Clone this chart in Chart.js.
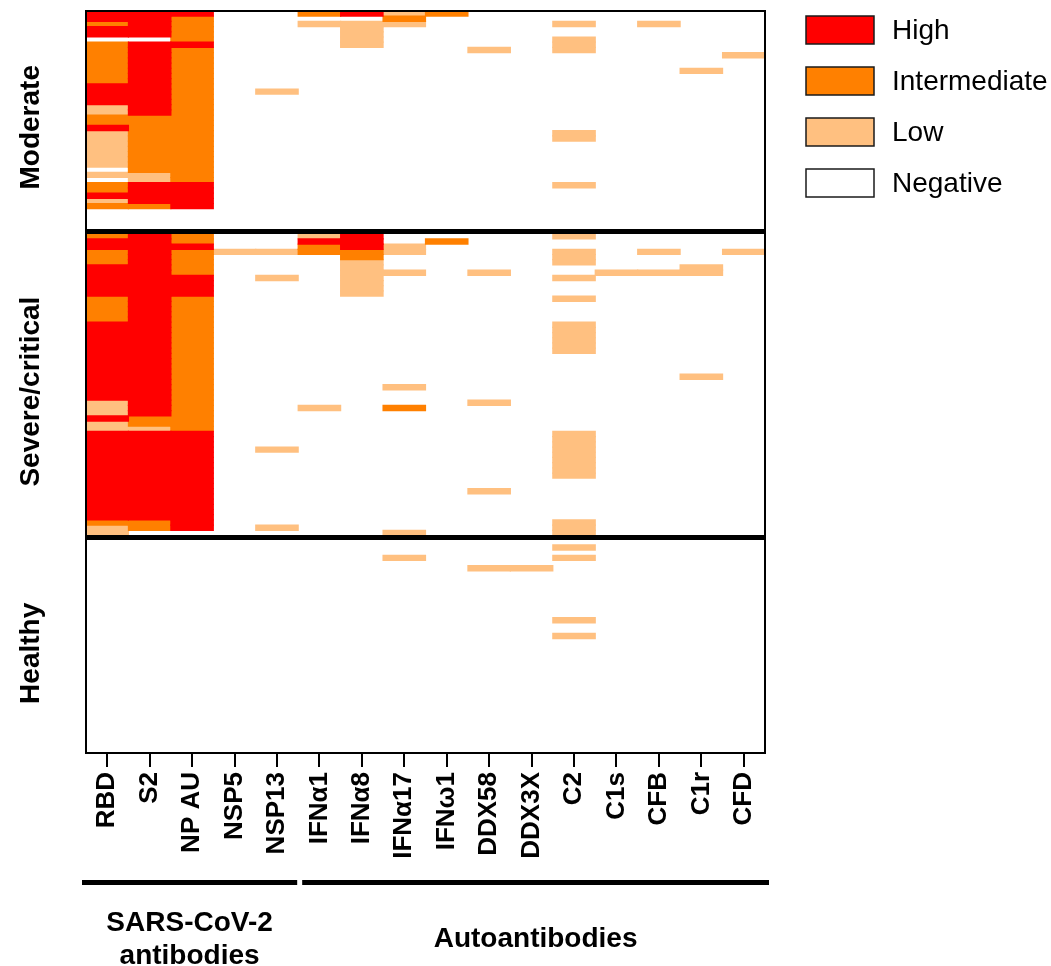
<!DOCTYPE html>
<html>
<head>
<meta charset="utf-8">
<script src="https://cdn.jsdelivr.net/npm/chart.js@4/dist/chart.umd.min.js"></script>
<style>
html,body{margin:0;padding:0;background:#fff;}
#wrap{width:1051px;height:966px;position:relative;}
</style>
</head>
<body>
<div id="wrap"><canvas id="c" width="1051" height="966"></canvas></div>
<script>
const columns = ['RBD','S2','NP AU','NSP5','NSP13','IFNα1','IFNα8','IFNα17','IFNω1','DDX58','DDX3X','C2','C1s','CFB','C1r','CFD'];
const panelNames = ['Moderate','Severe/critical','Healthy'];
const levelNames = ['Negative','Low','Intermediate','High'];
const levelColors = ['#FFFFFF','#FFC080','#FF8000','#FF0000'];
const groupNames = [['SARS-CoV-2','antibodies'],['Autoantibodies']];
const groupSpans = [[0,4],[5,15]];

// each string = one patient row, one digit per column (0 Negative, 1 Low, 2 Intermediate, 3 High)
const moderateRows = [
"3330023120000000",
"3320000200000000",
"2320011100010100",
"3320001000000000",
"3320001000000000",
"0020001000010000",
"2330001000010000",
"2320000001010000",
"2320000000000001",
"2320000000000000",
"2320000000000000",
"2320000000000010",
"2320000000000000",
"2320000000000000",
"3320000000000000",
"3320100000000000",
"3320000000000000",
"3320000000000000",
"1320000000000000",
"1320000000000000",
"2220000000000000",
"2220000000000000",
"3220000000000000",
"1220000000010000",
"1220000000010000",
"1220000000000000",
"1220000000000000",
"1220000000000000",
"1220000000000000",
"1220000000000000",
"0220000000000000",
"1120000000000000",
"0120000000000000",
"2330000000010000",
"2330000000000000",
"3330000000000000",
"1330000000000000",
"2230000000000000",
"0000000000000000",
"0000000000000000",
"0000000000000000",
"0000000000000000"
];

const severeRows = [
"2320013000010000",
"3320033020000000",
"3330023100000000",
"2321122100010101",
"2320002000010000",
"2320001000010000",
"3320001000000010",
"3320001101001110",
"3330101000010000",
"3330001000000000",
"3330001000000000",
"3330001000000000",
"2320000000010000",
"2320000000000000",
"2320000000000000",
"2320000000000000",
"2320000000000000",
"3320000000010000",
"3320000000010000",
"3320000000010000",
"3320000000010000",
"3320000000010000",
"3320000000010000",
"3320000000000000",
"3320000000000000",
"3320000000000000",
"3320000000000000",
"3320000000000010",
"3320000000000000",
"3320000100000000",
"3320000000000000",
"3320000000000000",
"1320000001000000",
"1320010200000000",
"1320000000000000",
"3220000000000000",
"1220000000000000",
"1120000000000000",
"3330000000010000",
"3330000000010000",
"3330000000010000",
"3330100000010000",
"3330000000010000",
"3330000000010000",
"3330000000010000",
"3330000000010000",
"3330000000010000",
"3330000000000000",
"3330000000000000",
"3330000001000000",
"3330000000000000",
"3330000000000000",
"3330000000000000",
"3330000000000000",
"3330000000000000",
"2230000000010000",
"1230100000010000",
"1000000100010000"
];

const healthyRows = [
"0000000000000000",
"0000000000010000",
"0000000000000000",
"0000000100010000",
"0000000000000000",
"0000000001100000",
"0000000000000000",
"0000000000000000",
"0000000000000000",
"0000000000000000",
"0000000000000000",
"0000000000000000",
"0000000000000000",
"0000000000000000",
"0000000000000000",
"0000000000010000",
"0000000000000000",
"0000000000000000",
"0000000000010000",
"0000000000000000",
"0000000000000000",
"0000000000000000",
"0000000000000000",
"0000000000000000",
"0000000000000000",
"0000000000000000",
"0000000000000000",
"0000000000000000",
"0000000000000000",
"0000000000000000",
"0000000000000000",
"0000000000000000",
"0000000000000000",
"0000000000000000",
"0000000000000000",
"0000000000000000",
"0000000000000000",
"0000000000000000",
"0000000000000000",
"0000000000000000",
"0000000000000000"
];

const FONT = "'Liberation Sans', Arial, Helvetica, sans-serif";
const GAP = 0.8;
const panelRows = [moderateRows, severeRows, healthyRows];

// panel offsets on the row axis
const panelStart = [];
let acc = 0;
panelRows.forEach((rows, p) => {
  panelStart.push(acc);
  acc += rows.length + (p < panelRows.length - 1 ? GAP : 0);
});
const totalUnits = acc;

// one dataset per level (legend order High..Negative)
const legendOrder = [3, 2, 1, 0];
const datasets = legendOrder.map(level => ({
  label: levelNames[level],
  level: level,
  backgroundColor: levelColors[level],
  borderWidth: 0,
  inflateAmount: level === 0 ? 0 : 0.6,
  grouped: false,
  barPercentage: 1,
  categoryPercentage: 1,
  data: []
}));
panelRows.forEach((rows, p) => {
  rows.forEach((row, r) => {
    for (let c = 0; c < columns.length; c++) {
      const level = +row[c];
      const ds = datasets[legendOrder.indexOf(level)];
      ds.data.push({x: columns[c], y: [panelStart[p] + r, panelStart[p] + r + 1]});
    }
  });
});

const decorPlugin = {
  id: 'decor',
  afterDatasetsDraw(chart) {
    const ctx = chart.ctx;
    const ca = chart.chartArea;
    const xs = chart.scales.x, ys = chart.scales.y;
    const colW = xs.getPixelForValue(1) - xs.getPixelForValue(0);
    const colLeft = i => xs.getPixelForValue(i) - colW / 2;
    const colRight = i => xs.getPixelForValue(i) + colW / 2;
    ctx.save();
    // outer frame
    ctx.strokeStyle = '#000';
    ctx.lineWidth = 2;
    ctx.strokeRect(ca.left, ca.top, ca.right - ca.left, ca.bottom - ca.top);
    // panel separators
    ctx.lineWidth = 5;
    for (let p = 1; p < panelRows.length; p++) {
      const y = ys.getPixelForValue(panelStart[p] - GAP / 2);
      ctx.beginPath();
      ctx.moveTo(ca.left - 1, y);
      ctx.lineTo(ca.right + 1, y);
      ctx.stroke();
    }
    // panel labels
    ctx.fillStyle = '#000';
    ctx.font = 'bold 28px ' + FONT;
    ctx.textAlign = 'center';
    ctx.textBaseline = 'middle';
    panelRows.forEach((rows, p) => {
      const y0 = ys.getPixelForValue(panelStart[p]);
      const y1 = ys.getPixelForValue(panelStart[p] + rows.length);
      ctx.save();
      ctx.translate(31, (y0 + y1) / 2 + 7);
      ctx.rotate(-Math.PI / 2);
      ctx.fillText(panelNames[p], 0, 0);
      ctx.restore();
    });
    // group bars and labels
    groupSpans.forEach((span, g) => {
      const x0 = colLeft(span[0]) + (g === 0 ? -4 : 4);
      const x1 = colRight(span[1]) + (g === 0 ? -1 : 4);
      ctx.fillRect(x0, ca.bottom + 127, x1 - x0, 5);
      ctx.font = 'bold 28px ' + FONT;
      ctx.textAlign = 'center';
      ctx.textBaseline = 'alphabetic';
      const lines = groupNames[g];
      const mid = ca.bottom + 194;
      lines.forEach((t, i) => {
        ctx.fillText(t, (x0 + x1) / 2, mid - (lines.length - 1) * 16.5 + i * 33);
      });
    });
    // legend
    ctx.font = '28px ' + FONT;
    ctx.textAlign = 'left';
    ctx.textBaseline = 'middle';
    chart.data.datasets.forEach((ds, i) => {
      const bx = ca.right + 41, by = 16 + i * 51;
      ctx.fillStyle = ds.backgroundColor;
      ctx.fillRect(bx, by, 68, 28);
      ctx.strokeStyle = '#1a1a1a';
      ctx.lineWidth = 1.5;
      ctx.strokeRect(bx, by, 68, 28);
      ctx.fillStyle = '#000';
      ctx.fillText(ds.label, bx + 86, by + 15);
    });
    ctx.restore();
  }
};

new Chart(document.getElementById('c'), {
  type: 'bar',
  data: { labels: columns, datasets: datasets },
  options: {
    responsive: false,
    devicePixelRatio: 1,
    animation: false,
    layout: { padding: { left: 86, right: 286, top: 11, bottom: 0 } },
    plugins: { legend: { display: false }, tooltip: { enabled: false } },
    scales: {
      x: {
        type: 'category',
        offset: true,
        grid: { display: true, drawOnChartArea: false, drawTicks: true, tickLength: 14, color: '#000', lineWidth: 2, offset: false },
        border: { display: false },
        ticks: {
          autoSkip: false, maxRotation: 90, minRotation: 90, padding: 5, color: '#000',
          font: { family: FONT, size: 26, weight: 'bold' }
        },
        afterFit: s => { s.height = 213; }
      },
      y: {
        type: 'linear', display: false, reverse: true, min: 0, max: totalUnits
      }
    }
  },
  plugins: [decorPlugin]
});
</script>
</body>
</html>
